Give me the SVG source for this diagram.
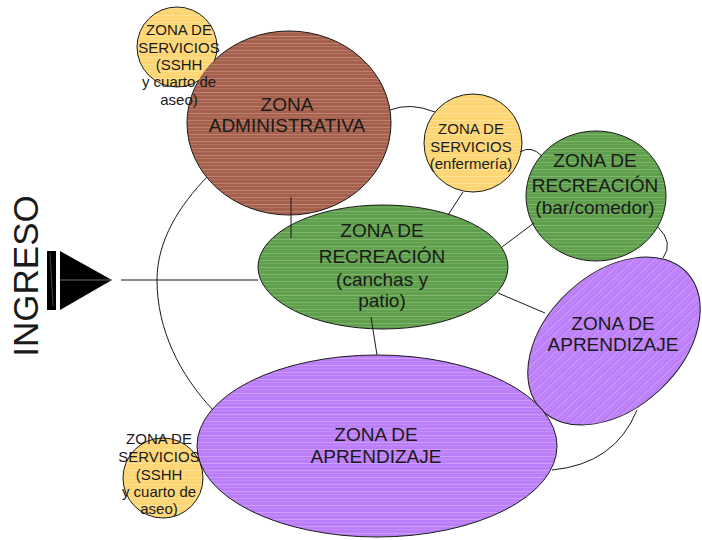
<svg xmlns="http://www.w3.org/2000/svg" width="702" height="540" viewBox="0 0 702 540">
<defs>
<style>
.node{stroke:#1a1a1a;stroke-width:1}
.lbl{font-family:"Liberation Sans",Arial,sans-serif;fill:#1a1a1a;text-anchor:middle}
.big{font-size:19px}
.sm{font-size:15px}
.con{fill:none;stroke:#1a1a1a;stroke-width:1}
</style>
<pattern id="pBrown" patternUnits="userSpaceOnUse" width="12" height="7">
<rect width="12" height="7" fill="#a5614d"/>
<rect y="1" width="12" height="1" fill="#c48b79" opacity="0.8"/>
<rect y="4" width="12" height="1" fill="#bd806d" opacity="0.6"/>
</pattern>
<pattern id="pGreen" patternUnits="userSpaceOnUse" width="12" height="7">
<rect width="12" height="7" fill="#5f9f4d"/>
<rect y="1" width="12" height="1" fill="#86bb74" opacity="0.8"/>
<rect y="4" width="12" height="1" fill="#7ab266" opacity="0.6"/>
</pattern>
<pattern id="pPurple" patternUnits="userSpaceOnUse" width="12" height="7">
<rect width="12" height="7" fill="#bb7ef8"/>
<rect y="1" width="12" height="1" fill="#d2a6fc" opacity="0.8"/>
<rect y="4" width="12" height="1" fill="#c995fb" opacity="0.6"/>
</pattern>
<pattern id="pYellow" patternUnits="userSpaceOnUse" width="12" height="7">
<rect width="12" height="7" fill="#fdd573"/>
<rect y="1" width="12" height="1" fill="#fee4a3" opacity="0.8"/>
<rect y="4" width="12" height="1" fill="#fedd8d" opacity="0.6"/>
</pattern>
<mask id="behindAdmin" maskUnits="userSpaceOnUse" x="0" y="0" width="702" height="540">
<rect width="702" height="540" fill="#fff"/>
<ellipse cx="289" cy="123" rx="102" ry="92" fill="#000"/>
</mask>
</defs>

<g id="ingreso">
<text class="lbl" font-size="35" transform="translate(38,276) rotate(-90)">INGRESO</text>
<rect x="47" y="251" width="9" height="59" fill="#000"/>
<line x1="50" y1="253" x2="53" y2="306" stroke="#777" stroke-width="0.6"/>
<polygon points="60,251 60,310 112,280" fill="#000"/>
<line x1="60" y1="280" x2="112" y2="280" stroke="#888" stroke-width="0.8"/>
</g>

<g id="zona-administrativa">
<ellipse class="node" cx="289" cy="123" rx="102" ry="92" fill="url(#pBrown)"/>
<text class="lbl big" x="287" y="111">ZONA</text>
<text class="lbl big" x="287" y="132">ADMINISTRATIVA</text>
</g>

<g id="servicios-sshh-arriba">
<circle class="node" cx="177" cy="47" r="40" fill="url(#pYellow)" mask="url(#behindAdmin)"/>
<text class="lbl sm" x="179" y="35">ZONA DE</text>
<text class="lbl sm" x="179" y="53">SERVICIOS</text>
<text class="lbl sm" x="179" y="70">(SSHH</text>
<text class="lbl sm" x="179" y="87">y cuarto de</text>
<text class="lbl sm" x="179" y="105">aseo)</text>
</g>

<g id="servicios-enfermeria">
<circle class="node" cx="473" cy="143" r="49" fill="url(#pYellow)"/>
<text class="lbl sm" x="471" y="134">ZONA DE</text>
<text class="lbl sm" x="471" y="152">SERVICIOS</text>
<text class="lbl sm" x="471" y="169">(enfermería)</text>
</g>

<g id="recreacion-bar">
<ellipse class="node" cx="596" cy="196" rx="70" ry="65" fill="url(#pGreen)"/>
<text class="lbl big" x="595" y="167">ZONA DE</text>
<text class="lbl big" x="595" y="192">RECREACIÓN</text>
<text class="lbl big" x="595" y="214">(bar/comedor)</text>
</g>

<g id="recreacion-canchas">
<ellipse class="node" cx="383" cy="267" rx="125" ry="62" fill="url(#pGreen)"/>
<text class="lbl big" x="382" y="237">ZONA DE</text>
<text class="lbl big" x="382" y="263">RECREACIÓN</text>
<text class="lbl big" x="382" y="286">(canchas y</text>
<text class="lbl big" x="382" y="307">patio)</text>
</g>

<g id="aprendizaje-derecha">
<ellipse class="node" cx="614" cy="341" rx="100" ry="67" transform="rotate(-43 614 341)" fill="url(#pPurple)"/>
<text class="lbl big" x="613" y="330">ZONA DE</text>
<text class="lbl big" x="613" y="351">APRENDIZAJE</text>
</g>

<g id="aprendizaje-principal">
<ellipse class="node" cx="377" cy="446" rx="180" ry="91" fill="url(#pPurple)"/>
<text class="lbl big" x="376" y="441">ZONA DE</text>
<text class="lbl big" x="376" y="463">APRENDIZAJE</text>
</g>

<g id="servicios-sshh-abajo">
<circle class="node" cx="163" cy="478" r="40" fill="url(#pYellow)"/>
<text class="lbl sm" x="159" y="444">ZONA DE</text>
<text class="lbl sm" x="159" y="462">SERVICIOS</text>
<text class="lbl sm" x="159" y="480">(SSHH</text>
<text class="lbl sm" x="159" y="497">y cuarto de</text>
<text class="lbl sm" x="159" y="514">aseo)</text>
</g>

<g id="connectors">
<path class="con" d="M121,280 H258"/>
<path class="con" d="M291,197 V238"/>
<path class="con" d="M463,192 L448,215"/>
<path class="con" d="M534,223 L502,247"/>
<path class="con" d="M498,293 L545,313"/>
<path class="con" d="M371,317 L377,355"/>
<path class="con" d="M390,110 Q410,102 435,112"/>
<path class="con" d="M520,152 Q531,145 542,156"/>
<path class="con" d="M658,227 Q674,243 663,258"/>
<path class="con" d="M637,410 Q615,464 552,470"/>
<path class="con" d="M207,177 C180,205 157,240 157,280 C157,330 180,375 213,410"/>
</g>
</svg>
